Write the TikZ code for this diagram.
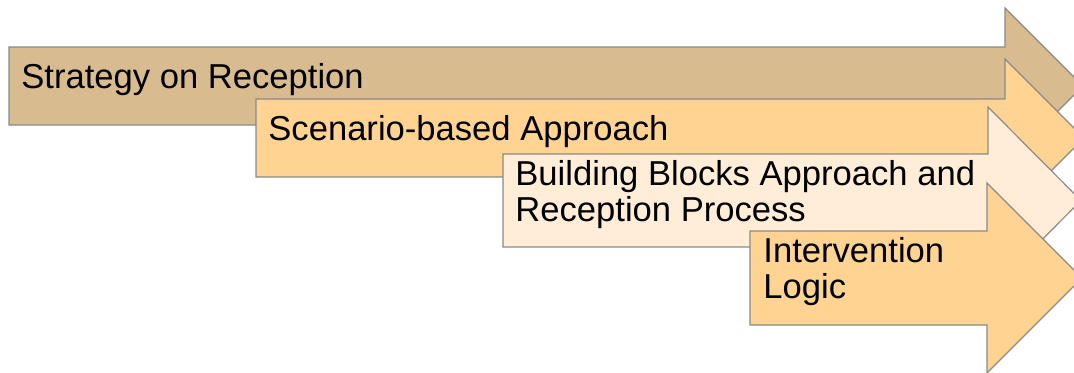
\documentclass[tikz,border=0pt]{standalone}
\usepackage{fontspec}
\setmainfont{Liberation Sans}
\definecolor{tanFill}{HTML}{D8BB8F}
\definecolor{orFill}{HTML}{FFD493}
\definecolor{paleFill}{HTML}{FFEDD7}
\definecolor{edge}{HTML}{8A8A8A}

\begin{document}
\begin{tikzpicture}[x=0.5pt,y=0.5pt,
	band/.style={draw=edge, line width=0.6pt, line join=miter},
	bandtext/.style={anchor=base west, inner sep=0pt, align=left,
		font=\fontsize{17.3}{18}\selectfont}]
	\useasboundingbox (0,0) rectangle (1074,-372);
	% left, top, bottom, head base, head top, head bottom, tip, fill
	\foreach \l/\t/\b/\h/\ht/\hb/\tip/\c in {
			9/47/125/1005/8/164/1083/tanFill,
			256/99/177/1005/59/217/1084/orFill,
			503/154/247/988/107/294/1081/paleFill,
			750/231/325/987/183/373/1082/orFill}
		\draw[band, fill=\c]
			(\l,-\t) -- (\h,-\t) -- (\h,-\ht) -- (\tip,{-(\t+\b)/2}) -- (\h,-\hb)
			-- (\h,-\b) -- (\l,-\b) -- cycle;
	\node[bandtext] (strategy) at (21,-88) {Strategy on Reception};
	\node[bandtext] (scenario) at (268,-140) {Scenario-based Approach};
	\node[bandtext] (blocks) at (515,-221) {Building Blocks Approach and\\Reception Process};
	\node[bandtext] (logic) at (763,-298) {Intervention\\Logic};
\end{tikzpicture}
\end{document}
